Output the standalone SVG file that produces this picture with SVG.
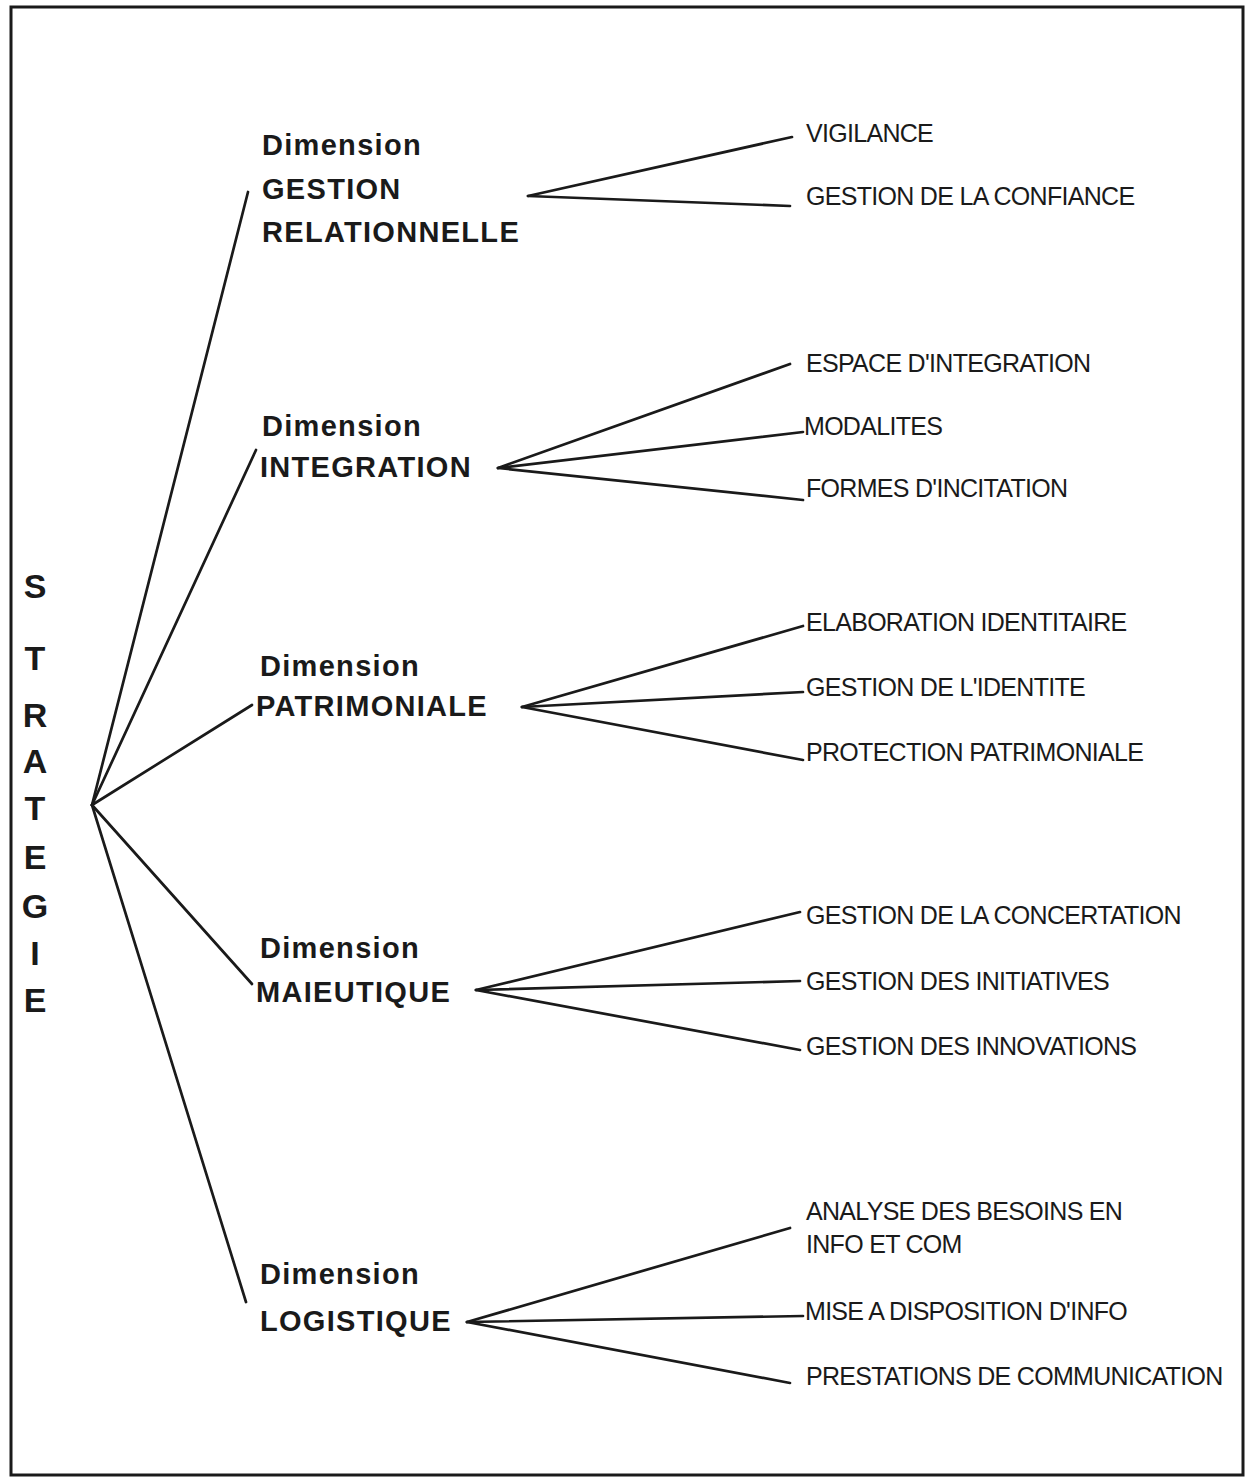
<svg xmlns="http://www.w3.org/2000/svg" width="1247" height="1482" viewBox="0 0 1247 1482">
<style>
.frame{fill:none;stroke:#1a1a1a;stroke-width:3}
.ln{stroke:#1a1a1a;stroke-width:2.7;stroke-linecap:round;fill:none}
.dim{font-family:"Liberation Sans",Arial,sans-serif;font-weight:bold;font-size:29px;letter-spacing:1.3px;fill:#1a1a1a}
.sub{font-family:"Liberation Sans",Arial,sans-serif;font-size:25px;letter-spacing:-0.7px;fill:#1a1a1a}
.root{font-family:"Liberation Sans",Arial,sans-serif;font-weight:bold;font-size:34px;fill:#1a1a1a;text-anchor:middle}
</style>
<rect x="0" y="0" width="1247" height="1482" fill="#ffffff"/>
<rect class="frame" x="11" y="7" width="1232" height="1468"/>

<g id="connectors">
  <line class="ln" x1="92" y1="805" x2="248" y2="192"/>
  <line class="ln" x1="92" y1="805" x2="256" y2="450"/>
  <line class="ln" x1="92" y1="805" x2="252" y2="705"/>
  <line class="ln" x1="92" y1="805" x2="252" y2="984"/>
  <line class="ln" x1="92" y1="805" x2="246" y2="1302"/>

  <line class="ln" x1="528" y1="196" x2="792" y2="137"/>
  <line class="ln" x1="528" y1="196" x2="790" y2="206"/>

  <line class="ln" x1="498" y1="468" x2="790" y2="364"/>
  <line class="ln" x1="498" y1="468" x2="803" y2="432"/>
  <line class="ln" x1="498" y1="468" x2="803" y2="500"/>

  <line class="ln" x1="522" y1="707" x2="803" y2="626"/>
  <line class="ln" x1="522" y1="707" x2="803" y2="692"/>
  <line class="ln" x1="522" y1="707" x2="803" y2="760"/>

  <line class="ln" x1="476" y1="990" x2="800" y2="912"/>
  <line class="ln" x1="476" y1="990" x2="800" y2="981"/>
  <line class="ln" x1="476" y1="990" x2="800" y2="1050"/>

  <line class="ln" x1="467" y1="1322" x2="790" y2="1228"/>
  <line class="ln" x1="467" y1="1322" x2="803" y2="1316"/>
  <line class="ln" x1="467" y1="1322" x2="790" y2="1383"/>
</g>

<g id="strategie">
  <text class="root" x="35" y="598">S</text>
  <text class="root" x="35" y="670">T</text>
  <text class="root" x="35" y="727">R</text>
  <text class="root" x="35" y="773">A</text>
  <text class="root" x="35" y="820">T</text>
  <text class="root" x="35" y="869">E</text>
  <text class="root" x="35" y="918">G</text>
  <text class="root" x="35" y="965">I</text>
  <text class="root" x="35" y="1012">E</text>
</g>

<g id="dim-gestion">
  <text class="dim" x="262" y="155">Dimension</text>
  <text class="dim" x="262" y="199">GESTION</text>
  <text class="dim" x="262" y="242">RELATIONNELLE</text>
</g>
<g id="dim-integration">
  <text class="dim" x="262" y="436">Dimension</text>
  <text class="dim" x="260" y="477">INTEGRATION</text>
</g>
<g id="dim-patrimoniale">
  <text class="dim" x="260" y="676">Dimension</text>
  <text class="dim" x="256" y="716">PATRIMONIALE</text>
</g>
<g id="dim-maieutique">
  <text class="dim" x="260" y="958">Dimension</text>
  <text class="dim" x="256" y="1002">MAIEUTIQUE</text>
</g>
<g id="dim-logistique">
  <text class="dim" x="260" y="1284">Dimension</text>
  <text class="dim" x="260" y="1331">LOGISTIQUE</text>
</g>

<g id="sub-vigilance"><text class="sub" x="806" y="142">VIGILANCE</text></g>
<g id="sub-confiance"><text class="sub" x="806" y="205">GESTION DE LA CONFIANCE</text></g>
<g id="sub-espace"><text class="sub" x="806" y="372">ESPACE D'INTEGRATION</text></g>
<g id="sub-modalites"><text class="sub" x="804" y="435">MODALITES</text></g>
<g id="sub-formes"><text class="sub" x="806" y="497">FORMES D'INCITATION</text></g>
<g id="sub-elaboration"><text class="sub" x="806" y="631">ELABORATION IDENTITAIRE</text></g>
<g id="sub-identite"><text class="sub" x="806" y="696">GESTION DE L'IDENTITE</text></g>
<g id="sub-protection"><text class="sub" x="806" y="761">PROTECTION PATRIMONIALE</text></g>
<g id="sub-concertation"><text class="sub" x="806" y="924">GESTION DE LA CONCERTATION</text></g>
<g id="sub-initiatives"><text class="sub" x="806" y="990">GESTION DES INITIATIVES</text></g>
<g id="sub-innovations"><text class="sub" x="806" y="1055">GESTION DES INNOVATIONS</text></g>
<g id="sub-analyse"><text class="sub" x="806" y="1220">ANALYSE DES BESOINS EN</text><text class="sub" x="806" y="1253">INFO ET COM</text></g>
<g id="sub-mise"><text class="sub" x="805" y="1320">MISE A DISPOSITION D'INFO</text></g>
<g id="sub-prestations"><text class="sub" x="806" y="1385">PRESTATIONS DE COMMUNICATION</text></g>
</svg>
